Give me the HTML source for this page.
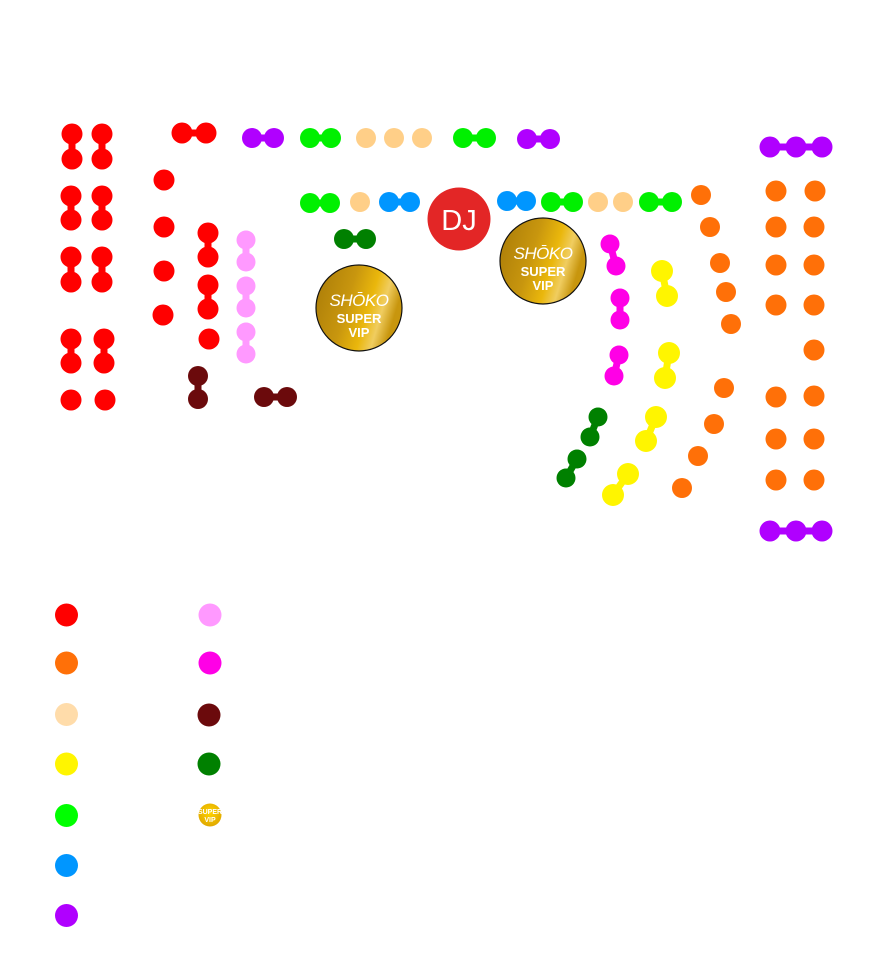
<!DOCTYPE html>
<html><head><meta charset="utf-8">
<style>
html,body{margin:0;padding:0;background:#fff;}
svg{display:block;}
.vt{font-family:"Liberation Sans",sans-serif;font-weight:bold;fill:#fff;text-anchor:middle;}
</style></head>
<body>
<svg width="893" height="964" viewBox="0 0 893 964" xmlns="http://www.w3.org/2000/svg">
<defs>
<linearGradient id="gold" x1="0" y1="0" x2="1" y2="0.3">
<stop offset="0" stop-color="#a87a08"/>
<stop offset="0.45" stop-color="#c8960e"/>
<stop offset="0.7" stop-color="#eab70c"/>
<stop offset="0.85" stop-color="#f0cd60"/>
<stop offset="1" stop-color="#c8960e"/>
</linearGradient>
<radialGradient id="lg" cx="0.5" cy="0.4" r="0.6">
<stop offset="0" stop-color="#ffd400"/><stop offset="1" stop-color="#e0a800"/>
</radialGradient>
</defs>

<!-- RED -->
<g fill="#ff0000" stroke="#ff0000" stroke-width="7">
<line x1="72" y1="134" x2="72" y2="159"/><circle cx="72" cy="134" r="10.5" stroke="none"/><circle cx="72" cy="159" r="10.5" stroke="none"/>
<line x1="102" y1="134" x2="102" y2="159"/><circle cx="102" cy="134" r="10.5" stroke="none"/><circle cx="102" cy="159" r="10.5" stroke="none"/>
<line x1="71" y1="196" x2="71" y2="220"/><circle cx="71" cy="196" r="10.5" stroke="none"/><circle cx="71" cy="220" r="10.5" stroke="none"/>
<line x1="102" y1="196" x2="102" y2="220"/><circle cx="102" cy="196" r="10.5" stroke="none"/><circle cx="102" cy="220" r="10.5" stroke="none"/>
<line x1="71" y1="257" x2="71" y2="282"/><circle cx="71" cy="257" r="10.5" stroke="none"/><circle cx="71" cy="282" r="10.5" stroke="none"/>
<line x1="102" y1="257" x2="102" y2="282"/><circle cx="102" cy="257" r="10.5" stroke="none"/><circle cx="102" cy="282" r="10.5" stroke="none"/>
<line x1="71" y1="339" x2="71" y2="363"/><circle cx="71" cy="339" r="10.5" stroke="none"/><circle cx="71" cy="363" r="10.5" stroke="none"/>
<line x1="104" y1="339" x2="104" y2="363"/><circle cx="104" cy="339" r="10.5" stroke="none"/><circle cx="104" cy="363" r="10.5" stroke="none"/>
<circle cx="71" cy="400" r="10.5" stroke="none"/><circle cx="105" cy="400" r="10.5" stroke="none"/>
<line x1="182" y1="133" x2="206" y2="133"/><circle cx="182" cy="133" r="10.5" stroke="none"/><circle cx="206" cy="133" r="10.5" stroke="none"/>
<circle cx="164" cy="180" r="10.5" stroke="none"/><circle cx="164" cy="227" r="10.5" stroke="none"/>
<circle cx="164" cy="271" r="10.5" stroke="none"/><circle cx="163" cy="315" r="10.5" stroke="none"/>
<line x1="208" y1="233" x2="208" y2="257"/><circle cx="208" cy="233" r="10.5" stroke="none"/><circle cx="208" cy="257" r="10.5" stroke="none"/>
<line x1="208" y1="285" x2="208" y2="309"/><circle cx="208" cy="285" r="10.5" stroke="none"/><circle cx="208" cy="309" r="10.5" stroke="none"/>
<circle cx="209" cy="339" r="10.5" stroke="none"/>
</g>

<!-- PINK -->
<g fill="#ff99ff" stroke="#ff99ff" stroke-width="7">
<line x1="246" y1="240" x2="246" y2="262"/><circle cx="246" cy="240" r="9.5" stroke="none"/><circle cx="246" cy="262" r="9.5" stroke="none"/>
<line x1="246" y1="286" x2="246" y2="308"/><circle cx="246" cy="286" r="9.5" stroke="none"/><circle cx="246" cy="308" r="9.5" stroke="none"/>
<line x1="246" y1="332" x2="246" y2="354"/><circle cx="246" cy="332" r="9.5" stroke="none"/><circle cx="246" cy="354" r="9.5" stroke="none"/>
</g>

<!-- MAROON -->
<g fill="#6b0a0c" stroke="#6b0a0c" stroke-width="7">
<line x1="198" y1="376" x2="198" y2="399"/><circle cx="198" cy="376" r="10" stroke="none"/><circle cx="198" cy="399" r="10" stroke="none"/>
<line x1="264" y1="397" x2="287" y2="397"/><circle cx="264" cy="397" r="10" stroke="none"/><circle cx="287" cy="397" r="10" stroke="none"/>
</g>

<!-- PURPLE -->
<g fill="#b000ff" stroke="#b000ff" stroke-width="7">
<line x1="252" y1="138" x2="274" y2="138"/><circle cx="252" cy="138" r="10" stroke="none"/><circle cx="274" cy="138" r="10" stroke="none"/>
<line x1="527" y1="139" x2="550" y2="139"/><circle cx="527" cy="139" r="10" stroke="none"/><circle cx="550" cy="139" r="10" stroke="none"/>
<line x1="770" y1="147" x2="822" y2="147"/><circle cx="770" cy="147" r="10.5" stroke="none"/><circle cx="796" cy="147" r="10.5" stroke="none"/><circle cx="822" cy="147" r="10.5" stroke="none"/>
<line x1="770" y1="531" x2="822" y2="531"/><circle cx="770" cy="531" r="10.5" stroke="none"/><circle cx="796" cy="531" r="10.5" stroke="none"/><circle cx="822" cy="531" r="10.5" stroke="none"/>
</g>

<!-- GREEN -->
<g fill="#00f000" stroke="#00f000" stroke-width="7">
<line x1="310" y1="138" x2="331" y2="138"/><circle cx="310" cy="138" r="10" stroke="none"/><circle cx="331" cy="138" r="10" stroke="none"/>
<line x1="463" y1="138" x2="486" y2="138"/><circle cx="463" cy="138" r="10" stroke="none"/><circle cx="486" cy="138" r="10" stroke="none"/>
<line x1="310" y1="203" x2="330" y2="203"/><circle cx="310" cy="203" r="10" stroke="none"/><circle cx="330" cy="203" r="10" stroke="none"/>
<line x1="551" y1="202" x2="573" y2="202"/><circle cx="551" cy="202" r="10" stroke="none"/><circle cx="573" cy="202" r="10" stroke="none"/>
<line x1="649" y1="202" x2="672" y2="202"/><circle cx="649" cy="202" r="10" stroke="none"/><circle cx="672" cy="202" r="10" stroke="none"/>
</g>

<!-- PEACH -->
<g fill="#ffcf88">
<circle cx="366" cy="138" r="10"/><circle cx="394" cy="138" r="10"/><circle cx="422" cy="138" r="10"/>
<circle cx="360" cy="202" r="10"/><circle cx="598" cy="202" r="10"/><circle cx="623" cy="202" r="10"/>
</g>

<!-- BLUE -->
<g fill="#0096ff" stroke="#0096ff" stroke-width="7">
<line x1="389" y1="202" x2="410" y2="202"/><circle cx="389" cy="202" r="10" stroke="none"/><circle cx="410" cy="202" r="10" stroke="none"/>
<line x1="507" y1="201" x2="526" y2="201"/><circle cx="507" cy="201" r="10" stroke="none"/><circle cx="526" cy="201" r="10" stroke="none"/>
</g>

<!-- DARK GREEN -->
<g fill="#008000" stroke="#008000" stroke-width="7">
<line x1="344" y1="239" x2="366" y2="239"/><circle cx="344" cy="239" r="10" stroke="none"/><circle cx="366" cy="239" r="10" stroke="none"/>
<line x1="598" y1="417" x2="590" y2="437"/><circle cx="598" cy="417" r="9.5" stroke="none"/><circle cx="590" cy="437" r="9.5" stroke="none"/>
<line x1="577" y1="459" x2="566" y2="478"/><circle cx="577" cy="459" r="9.5" stroke="none"/><circle cx="566" cy="478" r="9.5" stroke="none"/>
</g>

<!-- MAGENTA -->
<g fill="#ff00e6" stroke="#ff00e6" stroke-width="7">
<line x1="610" y1="244" x2="616" y2="266"/><circle cx="610" cy="244" r="9.5" stroke="none"/><circle cx="616" cy="266" r="9.5" stroke="none"/>
<line x1="620" y1="298" x2="620" y2="320"/><circle cx="620" cy="298" r="9.5" stroke="none"/><circle cx="620" cy="320" r="9.5" stroke="none"/>
<line x1="619" y1="355" x2="614" y2="376"/><circle cx="619" cy="355" r="9.5" stroke="none"/><circle cx="614" cy="376" r="9.5" stroke="none"/>
</g>

<!-- YELLOW -->
<g fill="#fff500" stroke="#fff500" stroke-width="7">
<line x1="662" y1="271" x2="667" y2="296"/><circle cx="662" cy="271" r="11" stroke="none"/><circle cx="667" cy="296" r="11" stroke="none"/>
<line x1="669" y1="353" x2="665" y2="378"/><circle cx="669" cy="353" r="11" stroke="none"/><circle cx="665" cy="378" r="11" stroke="none"/>
<line x1="656" y1="417" x2="646" y2="441"/><circle cx="656" cy="417" r="11" stroke="none"/><circle cx="646" cy="441" r="11" stroke="none"/>
<line x1="628" y1="474" x2="613" y2="495"/><circle cx="628" cy="474" r="11" stroke="none"/><circle cx="613" cy="495" r="11" stroke="none"/>
</g>

<!-- ORANGE -->
<g fill="#ff7008">
<circle cx="701" cy="195" r="10"/><circle cx="710" cy="227" r="10"/><circle cx="720" cy="263" r="10"/>
<circle cx="726" cy="292" r="10"/><circle cx="731" cy="324" r="10"/><circle cx="724" cy="388" r="10"/>
<circle cx="714" cy="424" r="10"/><circle cx="698" cy="456" r="10"/><circle cx="682" cy="488" r="10"/>
<circle cx="776" cy="191" r="10.5"/><circle cx="815" cy="191" r="10.5"/>
<circle cx="776" cy="227" r="10.5"/><circle cx="814" cy="227" r="10.5"/>
<circle cx="776" cy="265" r="10.5"/><circle cx="814" cy="265" r="10.5"/>
<circle cx="776" cy="305" r="10.5"/><circle cx="814" cy="305" r="10.5"/>
<circle cx="814" cy="350" r="10.5"/>
<circle cx="776" cy="397" r="10.5"/><circle cx="814" cy="396" r="10.5"/>
<circle cx="776" cy="439" r="10.5"/><circle cx="814" cy="439" r="10.5"/>
<circle cx="776" cy="480" r="10.5"/><circle cx="814" cy="480" r="10.5"/>
</g>

<!-- DJ -->
<circle cx="459" cy="219" r="31.5" fill="#e32626"/>
<text x="459" y="230" font-family="Liberation Sans, sans-serif" font-size="29" fill="#fff" text-anchor="middle">DJ</text>

<!-- VIP 1 -->
<circle cx="359" cy="308" r="43" fill="url(#gold)" stroke="#111" stroke-width="1.2"/>
<text x="359" y="306" font-family="Liberation Sans, sans-serif" font-size="17" font-style="italic" fill="#fff" text-anchor="middle" letter-spacing="-0.5">SHŌKO</text>
<text x="359" y="323" class="vt" font-size="13">SUPER</text>
<text x="359" y="337" class="vt" font-size="13">VIP</text>

<!-- VIP 2 -->
<circle cx="543" cy="261" r="43" fill="url(#gold)" stroke="#111" stroke-width="1.2"/>
<text x="543" y="259" font-family="Liberation Sans, sans-serif" font-size="17" font-style="italic" fill="#fff" text-anchor="middle" letter-spacing="-0.5">SHŌKO</text>
<text x="543" y="276" class="vt" font-size="13">SUPER</text>
<text x="543" y="290" class="vt" font-size="13">VIP</text>

<!-- LEGEND -->
<circle cx="66.5" cy="615" r="11.5" fill="#ff0000"/>
<circle cx="66.5" cy="663" r="11.5" fill="#ff7008"/>
<circle cx="66.5" cy="714.5" r="11.5" fill="#ffdcaa"/>
<circle cx="66.5" cy="764" r="11.5" fill="#fff500"/>
<circle cx="66.5" cy="815.5" r="11.5" fill="#00ff00"/>
<circle cx="66.5" cy="865.5" r="11.5" fill="#0096ff"/>
<circle cx="66.5" cy="915.5" r="11.5" fill="#b000ff"/>
<circle cx="210" cy="615" r="11.5" fill="#ff99ff"/>
<circle cx="210" cy="663" r="11.5" fill="#ff00e6"/>
<circle cx="209" cy="715" r="11.5" fill="#6b0a0c"/>
<circle cx="209" cy="764" r="11.5" fill="#008000"/>
<circle cx="210" cy="815" r="11.5" fill="url(#lg)"/>
<text x="210" y="814" class="vt" font-size="7">SUPER</text>
<text x="210" y="822" class="vt" font-size="7">VIP</text>
</svg>
</body></html>
